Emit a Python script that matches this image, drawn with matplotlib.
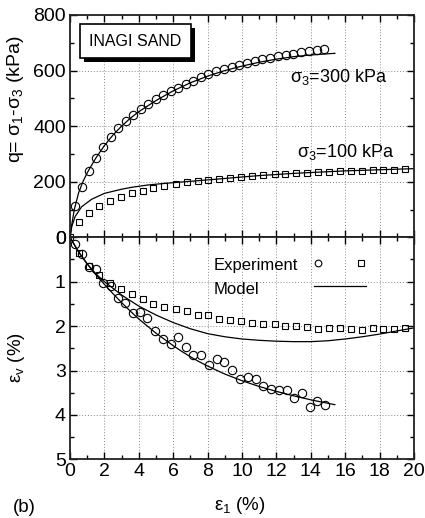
import numpy as np
import matplotlib
matplotlib.use("Agg")
import matplotlib.pyplot as plt
import matplotlib.patheffects as pe
from matplotlib.legend_handler import HandlerTuple
from matplotlib.ticker import MultipleLocator

plt.rcParams['font.family'] = ['Liberation Sans', 'DejaVu Sans']

# ── data ──────────────────────────────────────────────────
# experiment, sigma3 = 300 kPa (circles)
strain_300 = [0.29, 0.68, 1.10, 1.51, 1.94, 2.36, 2.81, 3.26, 3.68, 4.13, 4.55,
              4.98, 5.42, 5.87, 6.30, 6.74, 7.17, 7.62, 8.04, 8.49, 8.94, 9.39,
              9.84, 10.29, 10.74, 11.19, 11.64, 12.09, 12.54, 12.99, 13.44, 13.89,
              14.34, 14.79]
q_300 = [113, 182, 239, 287, 326, 362, 392, 419, 440, 462, 480,
         497, 512, 527, 539, 552, 564, 576, 588, 599, 606, 613,
         620, 628, 634, 640, 646, 651, 656, 661, 666, 671,
         675, 679]
strain_300v = [0.29, 0.68, 1.10, 1.51, 1.94, 2.36, 2.77, 3.20, 3.64, 4.07, 4.49,
               4.94, 5.39, 5.85, 6.30, 6.73, 7.17, 7.64, 8.08, 8.53, 8.97, 9.44,
               9.88, 10.33, 10.80, 11.24, 11.69, 12.15, 12.60, 13.04, 13.51, 13.95,
               14.38, 14.83]
ev_300 = [0.15, 0.38, 0.66, 0.72, 1.04, 1.10, 1.37, 1.47, 1.71, 1.68, 1.81,
          2.11, 2.29, 2.41, 2.24, 2.46, 2.65, 2.64, 2.88, 2.74, 2.80, 2.99,
          3.19, 3.14, 3.19, 3.34, 3.42, 3.44, 3.45, 3.61, 3.51, 3.83,
          3.68, 3.78]

# experiment, sigma3 = 100 kPa (squares)
strain_100 = [0, 0.52, 1.10, 1.70, 2.33, 2.97, 3.59, 4.22, 4.84, 5.48, 6.14,
              6.78, 7.42, 8.04, 8.68, 9.33, 9.96, 10.61, 11.25, 11.89, 12.52,
              13.16, 13.80, 14.42, 15.06, 15.70, 16.32, 16.97, 17.61, 18.22,
              18.86, 19.50]
q_100 = [0, 54, 89, 113, 132, 146, 158, 168, 176, 185, 192,
         198, 201, 205, 209, 212, 216, 221, 225, 227, 229,
         231, 233, 235, 236, 238, 239, 240, 241, 242,
         243, 244]
ev_100 = [0, 0.36, 0.64, 0.85, 1.02, 1.16, 1.28, 1.39, 1.51, 1.56, 1.62,
          1.65, 1.76, 1.76, 1.85, 1.86, 1.88, 1.92, 1.95, 1.96, 1.99,
          2.00, 2.03, 2.07, 2.04, 2.04, 2.07, 2.08, 2.04, 2.07,
          2.06, 2.05]

# model curves
mod_x300 = [0, 0.1, 0.25, 0.5, 0.75, 1.0, 1.5, 2.0, 2.5, 3.0, 3.5, 4.0, 5.0, 6.0,
            7.0, 8.0, 9.0, 10.0, 11.0, 12.0, 13.0, 14.0, 15.4]
mod_q300 = [0, 45, 100, 160, 200, 232, 285, 330, 368, 400, 428, 452, 492, 527,
            556, 580, 600, 616, 630, 641, 650, 656, 662]
mod_x300v = [0, 0.5, 1.0, 1.5, 2.0, 2.5, 3.0, 3.5, 4.0, 4.5, 5.0, 5.5, 6.0, 6.5,
             7.0, 7.5, 8.0, 8.5, 9.0, 10.0, 11.0, 12.0, 13.0, 14.0, 15.4]
mod_ev300 = [0, 0.33, 0.60, 0.84, 1.06, 1.27, 1.47, 1.66, 1.84, 2.00, 2.16, 2.30,
             2.44, 2.57, 2.69, 2.80, 2.90, 2.99, 3.08, 3.23, 3.36, 3.47, 3.57,
             3.66, 3.77]

mod_x100 = [0, 0.1, 0.3, 0.68, 1.26, 2.0, 3.0, 3.6, 4.5, 5.5, 6.5, 7.5, 8.5,
            10, 11, 12, 13, 14, 15, 16, 17, 18, 19, 20]
mod_q100 = [0, 38, 75, 110, 137, 158, 173, 180, 188, 194, 199, 204, 209,
            217, 222, 226, 230, 233, 236, 239, 241, 243, 245, 247]
mod_x100v = [0, 0.5, 1, 1.5, 2, 3, 4, 5, 6, 7, 8, 9, 10, 11, 12, 13, 14, 15,
             16, 17, 18, 19, 20]
mod_ev100 = [0, 0.33, 0.60, 0.82, 1.00, 1.30, 1.55, 1.75, 1.92, 2.06, 2.17,
             2.24, 2.29, 2.32, 2.34, 2.35, 2.35, 2.33, 2.29, 2.24, 2.18, 2.11, 2.04]

# ── figure ────────────────────────────────────────────────
fig = plt.figure(figsize=(4.25, 5.18), dpi=100)
ax1 = fig.add_axes([0.1647, 0.5419, 0.8094, 0.4292])
ax2 = fig.add_axes([0.1647, 0.1133, 0.8094, 0.4286])

mk = dict(linestyle="none", mfc="none", mec="black", mew=0.8)
ln = dict(color="black", lw=0.9)

# top: deviator stress
ax1.plot(strain_300, q_300, marker="o", ms=6, **mk)
ax1.plot(strain_100, q_100, marker="s", ms=5, **mk)
ax1.plot(mod_x300, mod_q300, **ln)
ax1.plot(mod_x100, mod_q100, **ln)

# bottom: volumetric strain
c_h, = ax2.plot(strain_300v, ev_300, marker="o", ms=6, **mk)
s_h, = ax2.plot(strain_100, ev_100, marker="s", ms=5, **mk)
m_h, = ax2.plot(mod_x300v, mod_ev300, **ln)
ax2.plot(mod_x100v, mod_ev100, **ln)

for ax in (ax1, ax2):
    ax.set_xlim(0, 20)
    ax.xaxis.set_major_locator(MultipleLocator(2))
    ax.xaxis.set_minor_locator(MultipleLocator(1))
    ax.tick_params(which="both", direction="in", top=True, right=True,
                   labelsize=14, width=1, pad=3)
    ax.tick_params(which="major", length=5)
    ax.tick_params(which="minor", length=3)
    ax.grid(True, which="major", color="#888888", lw=0.7, linestyle=(0, (1, 2)))
    for s in ax.spines.values():
        s.set_linewidth(1.3)
        s.set_color("#222222")

ax1.set_ylim(0, 800)
ax1.yaxis.set_major_locator(MultipleLocator(200))
ax1.yaxis.set_minor_locator(MultipleLocator(100))
ax1.tick_params(labelbottom=False)

ax2.set_ylim(5, 0)
ax2.yaxis.set_major_locator(MultipleLocator(1))
ax2.yaxis.set_minor_locator(MultipleLocator(0.5))

ax1.set_ylabel("q= σ$\\mathregular{_1}$-σ$\\mathregular{_3}$ (kPa)", fontsize=14)
ax1.yaxis.set_label_coords(-0.128, 0.62)
ax2.set_ylabel("ε$\\mathregular{_v}$ (%)", fontsize=13.5)
ax2.yaxis.set_label_coords(-0.124, 0.46)
ax2.set_xlabel("ε$\\mathregular{_1}$ (%)", fontsize=13.5, va="center")
ax2.xaxis.set_label_coords(0.494, -0.21)

# annotations
ax1.text(12.8, 560, "σ$\\mathregular{_3}$=300 kPa", fontsize=13)
ax1.text(13.2, 290, "σ$\\mathregular{_3}$=100 kPa", fontsize=13)

tag = ax1.text(0.19, 0.882, "INAGI SAND", fontsize=11.5, ha="center", va="center",
               transform=ax1.transAxes,
               bbox=dict(boxstyle="square,pad=0.6", fc="white", ec="black", lw=1.2))
tag.get_bbox_patch().set_path_effects(
    [pe.SimplePatchShadow(offset=(3, -3), shadow_rgbFace="black", alpha=1), pe.Normal()])

# legend: labels as text, handles through legend
ax2.text(0.4186, 0.853, "Experiment", fontsize=12, transform=ax2.transAxes)
ax2.text(0.4186, 0.745, "Model", fontsize=12, transform=ax2.transAxes)
ax2.legend([(c_h, s_h), m_h], ["", ""],
           handler_map={tuple: HandlerTuple(ndivide=None, pad=2.2)},
           loc="upper left", bbox_to_anchor=(0.709, 0.908),
           borderpad=0, borderaxespad=0, handlelength=3.4, handletextpad=0,
           labelspacing=0.55, frameon=False, fontsize=11, markerscale=0.8)

fig.text(13 / 425, 1 - 507 / 518, "(b)", fontsize=13.5, va="center")

plt.savefig("out.png", dpi=100)
